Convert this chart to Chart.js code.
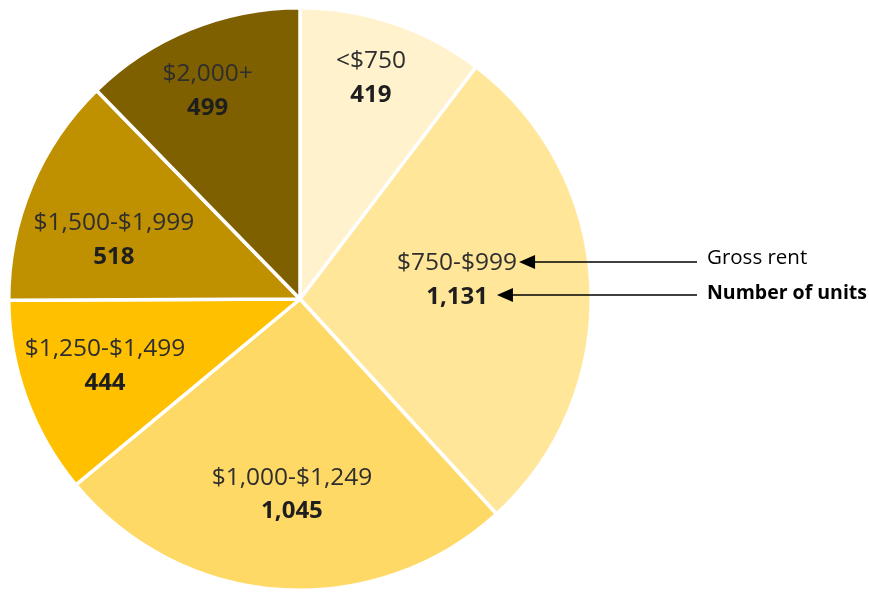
<!DOCTYPE html>
<html>
<head>
<meta charset="utf-8">
<script src="https://cdn.jsdelivr.net/npm/chart.js@4/dist/chart.umd.min.js"></script>
<style>
  html, body { margin: 0; padding: 0; background: #fff; }
  #wrap { width: 869px; height: 592px; position: relative; }
</style>
</head>
<body>
<div id="wrap"><canvas id="rentChart"></canvas></div>
<script>
// data
const rentRanges = ['<$750', '$750-$999', '$1,000-$1,249', '$1,250-$1,499', '$1,500-$1,999', '$2,000+'];
const unitCounts = [419, 1131, 1045, 444, 518, 499];
const sliceColors = ['#FFF2CC', '#FFE699', '#FFD966', '#FFC000', '#BF9000', '#7F6000'];

// where each label sits: fraction of radius, and a small nudge of the angle (deg)
const labelRadius = [0.797, 0.543, 0.672, 0.708, 0.67, 0.781];
const labelNudge = [-0.8, -4.1, -1.6, 1, -5.2, -1.8];

const FONT = '"Open Sans", "Liberation Sans", sans-serif';

function arrowLeft(ctx, x1, x2, y) {
    // line from x1 back to tip at x2, head pointing left
    ctx.beginPath();
    ctx.moveTo(x1, y);
    ctx.lineTo(x2 + 14, y);
    ctx.stroke();
    ctx.beginPath();
    ctx.moveTo(x2, y);
    ctx.lineTo(x2 + 16, y - 7);
    ctx.lineTo(x2 + 16, y + 7);
    ctx.closePath();
    ctx.fill();
}

const sliceLabels = {
    id: 'sliceLabels',
    afterDraw(chart) {
        const ctx = chart.ctx;
        const arcs = chart.getDatasetMeta(0).data;
        let tips = null;
        ctx.save();
        ctx.textAlign = 'center';
        ctx.textBaseline = 'middle';
        arcs.forEach((arc, i) => {
            const p = arc.getProps(['x', 'y', 'startAngle', 'endAngle', 'outerRadius'], true);
            const mid = (p.startAngle + p.endAngle) / 2 + labelNudge[i] * Math.PI / 180;
            const r = p.outerRadius * labelRadius[i];
            const x = p.x + Math.cos(mid) * r;
            const y = p.y + Math.sin(mid) * r;

            ctx.font = '24.5px ' + FONT;
            ctx.fillStyle = '#2e2e2e';
            ctx.fillText(rentRanges[i], x, y - 17);
            const w1 = ctx.measureText(rentRanges[i]).width;

            const num = unitCounts[i].toLocaleString('en-US');
            ctx.font = 'bold 24px ' + FONT;
            ctx.fillStyle = '#1e1e1e';
            ctx.fillText(num, x, y + 17);
            const w2 = ctx.measureText(num).width;

            if (i === 1) {
                tips = { a: x + w1 / 2 + 2, b: x + w2 / 2 + 9 };
            }
        });

        // side annotation
        ctx.textAlign = 'left';
        ctx.fillStyle = '#000';
        ctx.font = '20.5px ' + FONT;
        ctx.fillText('Gross rent', 707, 258);
        ctx.font = 'bold 19.5px ' + FONT;
        ctx.fillText('Number of units', 707, 293);

        ctx.strokeStyle = '#000';
        ctx.lineWidth = 1.5;
        arrowLeft(ctx, 697, tips.a, 262);
        arrowLeft(ctx, 697, tips.b, 295);
        ctx.restore();
    }
};

const ctx = document.getElementById('rentChart').getContext('2d');
const rentChart = new Chart(ctx, {
    type: 'pie',
    data: {
        labels: rentRanges,
        datasets: [{
            data: unitCounts,
            backgroundColor: sliceColors,
            borderColor: '#ffffff',
            borderWidth: 3.5
        }]
    },
    options: {
        responsive: true,
        maintainAspectRatio: false,
        animation: false,
        layout: { padding: { left: 7, top: 6, bottom: 0, right: 276 } },
        plugins: {
            legend: { display: false },
            tooltip: { enabled: false }
        }
    },
    plugins: [sliceLabels]
});
</script>
</body>
</html>
